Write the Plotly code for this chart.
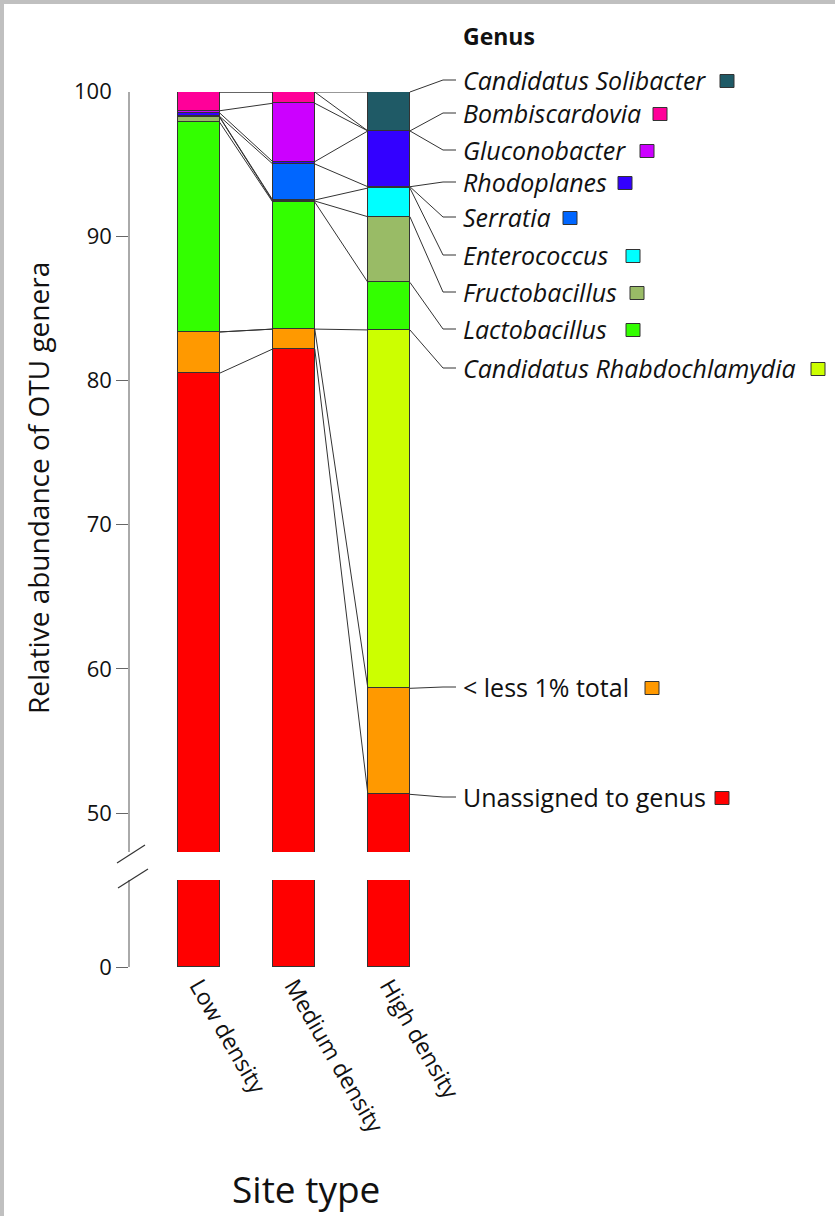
import plotly.graph_objects as go

# ---------------- data ----------------
categories = ["Low density", "Medium density", "High density"]

unassigned      = [80.50, 82.18, 51.30]
less1           = [2.86, 1.38, 7.35]
rhabdochlamydia = [0.00, 0.00, 24.85]
lactobacillus   = [14.54, 8.81, 3.30]
fructobacillus  = [0.35, 0.07, 4.55]
enterococcus    = [0.03, 0.07, 1.99]
serratia        = [0.03, 2.50, 0.09]
rhodoplanes     = [0.24, 0.16, 3.87]
gluconobacter   = [0.15, 4.05, 0.00]
bombiscardovia  = [1.30, 0.78, 0.00]
solibacter      = [0.00, 0.00, 2.70]

series_names = ["Unassigned to genus", "< less 1% total", "Candidatus Rhabdochlamydia",
                "Lactobacillus", "Fructobacillus", "Enterococcus", "Serratia",
                "Rhodoplanes", "Gluconobacter", "Bombiscardovia", "Candidatus Solibacter"]
series_values = [unassigned, less1, rhabdochlamydia, lactobacillus, fructobacillus,
                 enterococcus, serratia, rhodoplanes, gluconobacter, bombiscardovia, solibacter]
series_colors = ["#ff0000", "#ff9900", "#ccff00", "#33ff00", "#99bb66", "#00ffff",
                 "#0066ff", "#3300ff", "#cc00ff", "#ff0099", "#1f5a66"]
italic_names = set(series_names[2:])

y_ticks_upper = [50, 60, 70, 80, 90]
y_top_label = 100
y_ticks_lower = [0]

# ---------------- geometry helpers ----------------
W, H = 835, 1216
L, R, T, B = 130, 395, 92, 249
PW, PH = W - L - R, H - T - B
X_RANGE = [-0.721, 2.537]
BAR_W = 0.442
UP_RANGE = [47.3, 100.0]
LOW_RANGE = [0, 6]
up_dom = [(967 - 852) / PH, 1.0]
low_dom = [0.0, (967 - 880) / PH]


def px_x(px):
    return (px - L) / PW


def px_y(py):
    return (T + PH - py) / PH


def data_to_paper_x(x):
    return (x - X_RANGE[0]) / (X_RANGE[1] - X_RANGE[0])


def data_to_paper_y_up(v):
    return up_dom[0] + (v - UP_RANGE[0]) / (UP_RANGE[1] - UP_RANGE[0]) * (up_dom[1] - up_dom[0])


fig = go.Figure()
xs = list(range(len(categories)))

for name, vals, col in zip(series_names, series_values, series_colors):
    for xa, ya in (("x2", "y"), ("x", "y2")):
        fig.add_trace(go.Bar(x=xs, y=vals, width=BAR_W, name=name, marker_color=col,
                             marker_line=dict(color="#333333", width=1),
                             xaxis=xa, yaxis=ya, showlegend=False, hoverinfo="skip"))

# series lines connecting tops of each series between adjacent bars
tops = []
cum = [0.0] * len(categories)
for vals in series_values:
    cum = [c + v for c, v in zip(cum, vals)]
    tops.append(list(cum))
lx, ly = [], []
for t in tops:
    for i in range(len(categories) - 1):
        lx += [i + BAR_W / 2, i + 1 - BAR_W / 2, None]
        ly += [t[i], t[i + 1], None]
fig.add_trace(go.Scatter(x=lx, y=ly, mode="lines", line=dict(color="#333333", width=1),
                         xaxis="x2", yaxis="y", showlegend=False, hoverinfo="skip"))

shapes = []
annotations = []

# legend labels with leaders
label_py = {"Candidatus Solibacter": 80, "Bombiscardovia": 113, "Gluconobacter": 150,
            "Rhodoplanes": 182, "Serratia": 217, "Enterococcus": 255,
            "Fructobacillus": 292, "Lactobacillus": 329, "Candidatus Rhabdochlamydia": 368,
            "< less 1% total": 687, "Unassigned to genus": 797}
square_px = {"Candidatus Solibacter": 720, "Bombiscardovia": 653, "Gluconobacter": 640,
             "Rhodoplanes": 618, "Serratia": 563, "Enterococcus": 626,
             "Fructobacillus": 630, "Lactobacillus": 626, "Candidatus Rhabdochlamydia": 811,
             "< less 1% total": 645, "Unassigned to genus": 715}
use_bottom = {"Rhodoplanes"}
hi = len(categories) - 1
x_edge = data_to_paper_x(hi + BAR_W / 2)
for k, (name, col) in enumerate(zip(series_names, series_colors)):
    top = tops[k][hi]
    anchor_v = top - series_values[k][hi] if name in use_bottom else top
    y0 = data_to_paper_y_up(anchor_v)
    yl = px_y(label_py[name])
    shapes.append(dict(type="line", xref="paper", yref="paper", x0=x_edge, y0=y0,
                       x1=px_x(443), y1=yl, line=dict(color="#333333", width=1)))
    shapes.append(dict(type="line", xref="paper", yref="paper", x0=px_x(443), y0=yl,
                       x1=px_x(456), y1=yl, line=dict(color="#333333", width=1)))
    txt = f"<i>{name}</i>" if name in italic_names else name
    annotations.append(dict(text=txt, xref="paper", yref="paper", x=px_x(461), y=yl,
                            xanchor="left", yanchor="middle", showarrow=False,
                            font=dict(family="Open Sans", size=25, color="#111111")))
    sx = square_px[name]
    sy = label_py[name] + 1
    shapes.append(dict(type="rect", xref="paper", yref="paper", x0=px_x(sx), x1=px_x(sx + 14),
                       y0=px_y(sy + 6.5), y1=px_y(sy - 6.5), fillcolor=col,
                       line=dict(color="#333333", width=1)))

annotations.append(dict(text="<b>Genus</b>", xref="paper", yref="paper", x=px_x(461), y=px_y(36),
                        xanchor="left", yanchor="middle", showarrow=False,
                        font=dict(family="Open Sans", size=23, color="#111111")))
annotations.append(dict(text="Relative abundance of OTU genera", xref="paper", yref="paper",
                        x=px_x(38), y=px_y(488), xanchor="center", yanchor="middle",
                        textangle=-90, showarrow=False,
                        font=dict(family="Open Sans", size=28, color="#111111")))
annotations.append(dict(text="Site type", xref="paper", yref="paper",
                        x=px_x(306), y=px_y(1188), xanchor="center", yanchor="middle",
                        showarrow=False, font=dict(family="Open Sans", size=37, color="#111111")))
# top label of the y axis (shown without a tick mark in the reference)
annotations.append(dict(text=str(y_top_label), xref="paper", yref="y", x=px_x(114), y=y_top_label,
                        xanchor="right", yanchor="middle", yshift=2, showarrow=False,
                        font=dict(family="Open Sans", size=22, color="#111111")))

# axis break marks
for (a, b, c, d) in [(117, 863, 145, 845), (118, 888, 148, 869)]:
    shapes.append(dict(type="line", xref="paper", yref="paper", x0=px_x(a), y0=px_y(b),
                       x1=px_x(c), y1=px_y(d), line=dict(color="#333333", width=1.2)))

# grey frame on top and left edges
shapes.append(dict(type="rect", xref="paper", yref="paper", x0=px_x(0), x1=px_x(W),
                   y0=px_y(4), y1=px_y(-2), fillcolor="#c0c0c0", line=dict(width=0), layer="above"))
shapes.append(dict(type="rect", xref="paper", yref="paper", x0=px_x(-2), x1=px_x(4),
                   y0=px_y(H + 2), y1=px_y(-2), fillcolor="#c0c0c0", line=dict(width=0), layer="above"))

axis_common = dict(showline=True, linecolor="#aaaaaa", linewidth=1.5, ticks="outside",
                   ticklen=12, tickcolor="#666666", showgrid=False, zeroline=False,
                   tickfont=dict(family="Open Sans", size=22, color="#111111"))

fig.update_layout(
    width=W, height=H, barmode="stack", bargap=0,
    paper_bgcolor="white", plot_bgcolor="white",
    margin=dict(l=L, r=R, t=T, b=B, autoexpand=False),
    xaxis=dict(domain=[0, 1], range=X_RANGE, anchor="y2", tickvals=xs, ticktext=categories,
               tickangle=60, showline=False, ticks="", showgrid=False, zeroline=False,
               tickfont=dict(family="Open Sans", size=23, color="#111111")),
    xaxis2=dict(domain=[0, 1], range=X_RANGE, anchor="y", matches="x", visible=False),
    yaxis=dict(domain=up_dom, range=UP_RANGE, anchor="x2", tickvals=y_ticks_upper, **axis_common),
    yaxis2=dict(domain=low_dom, range=LOW_RANGE, anchor="x", tickvals=y_ticks_lower, **axis_common),
    shapes=shapes, annotations=annotations, showlegend=False,
)

fig.write_html("out.html", config={"displayModeBar": False},
               post_script="document.body.style.margin='0';document.body.style.overflow='hidden';")
